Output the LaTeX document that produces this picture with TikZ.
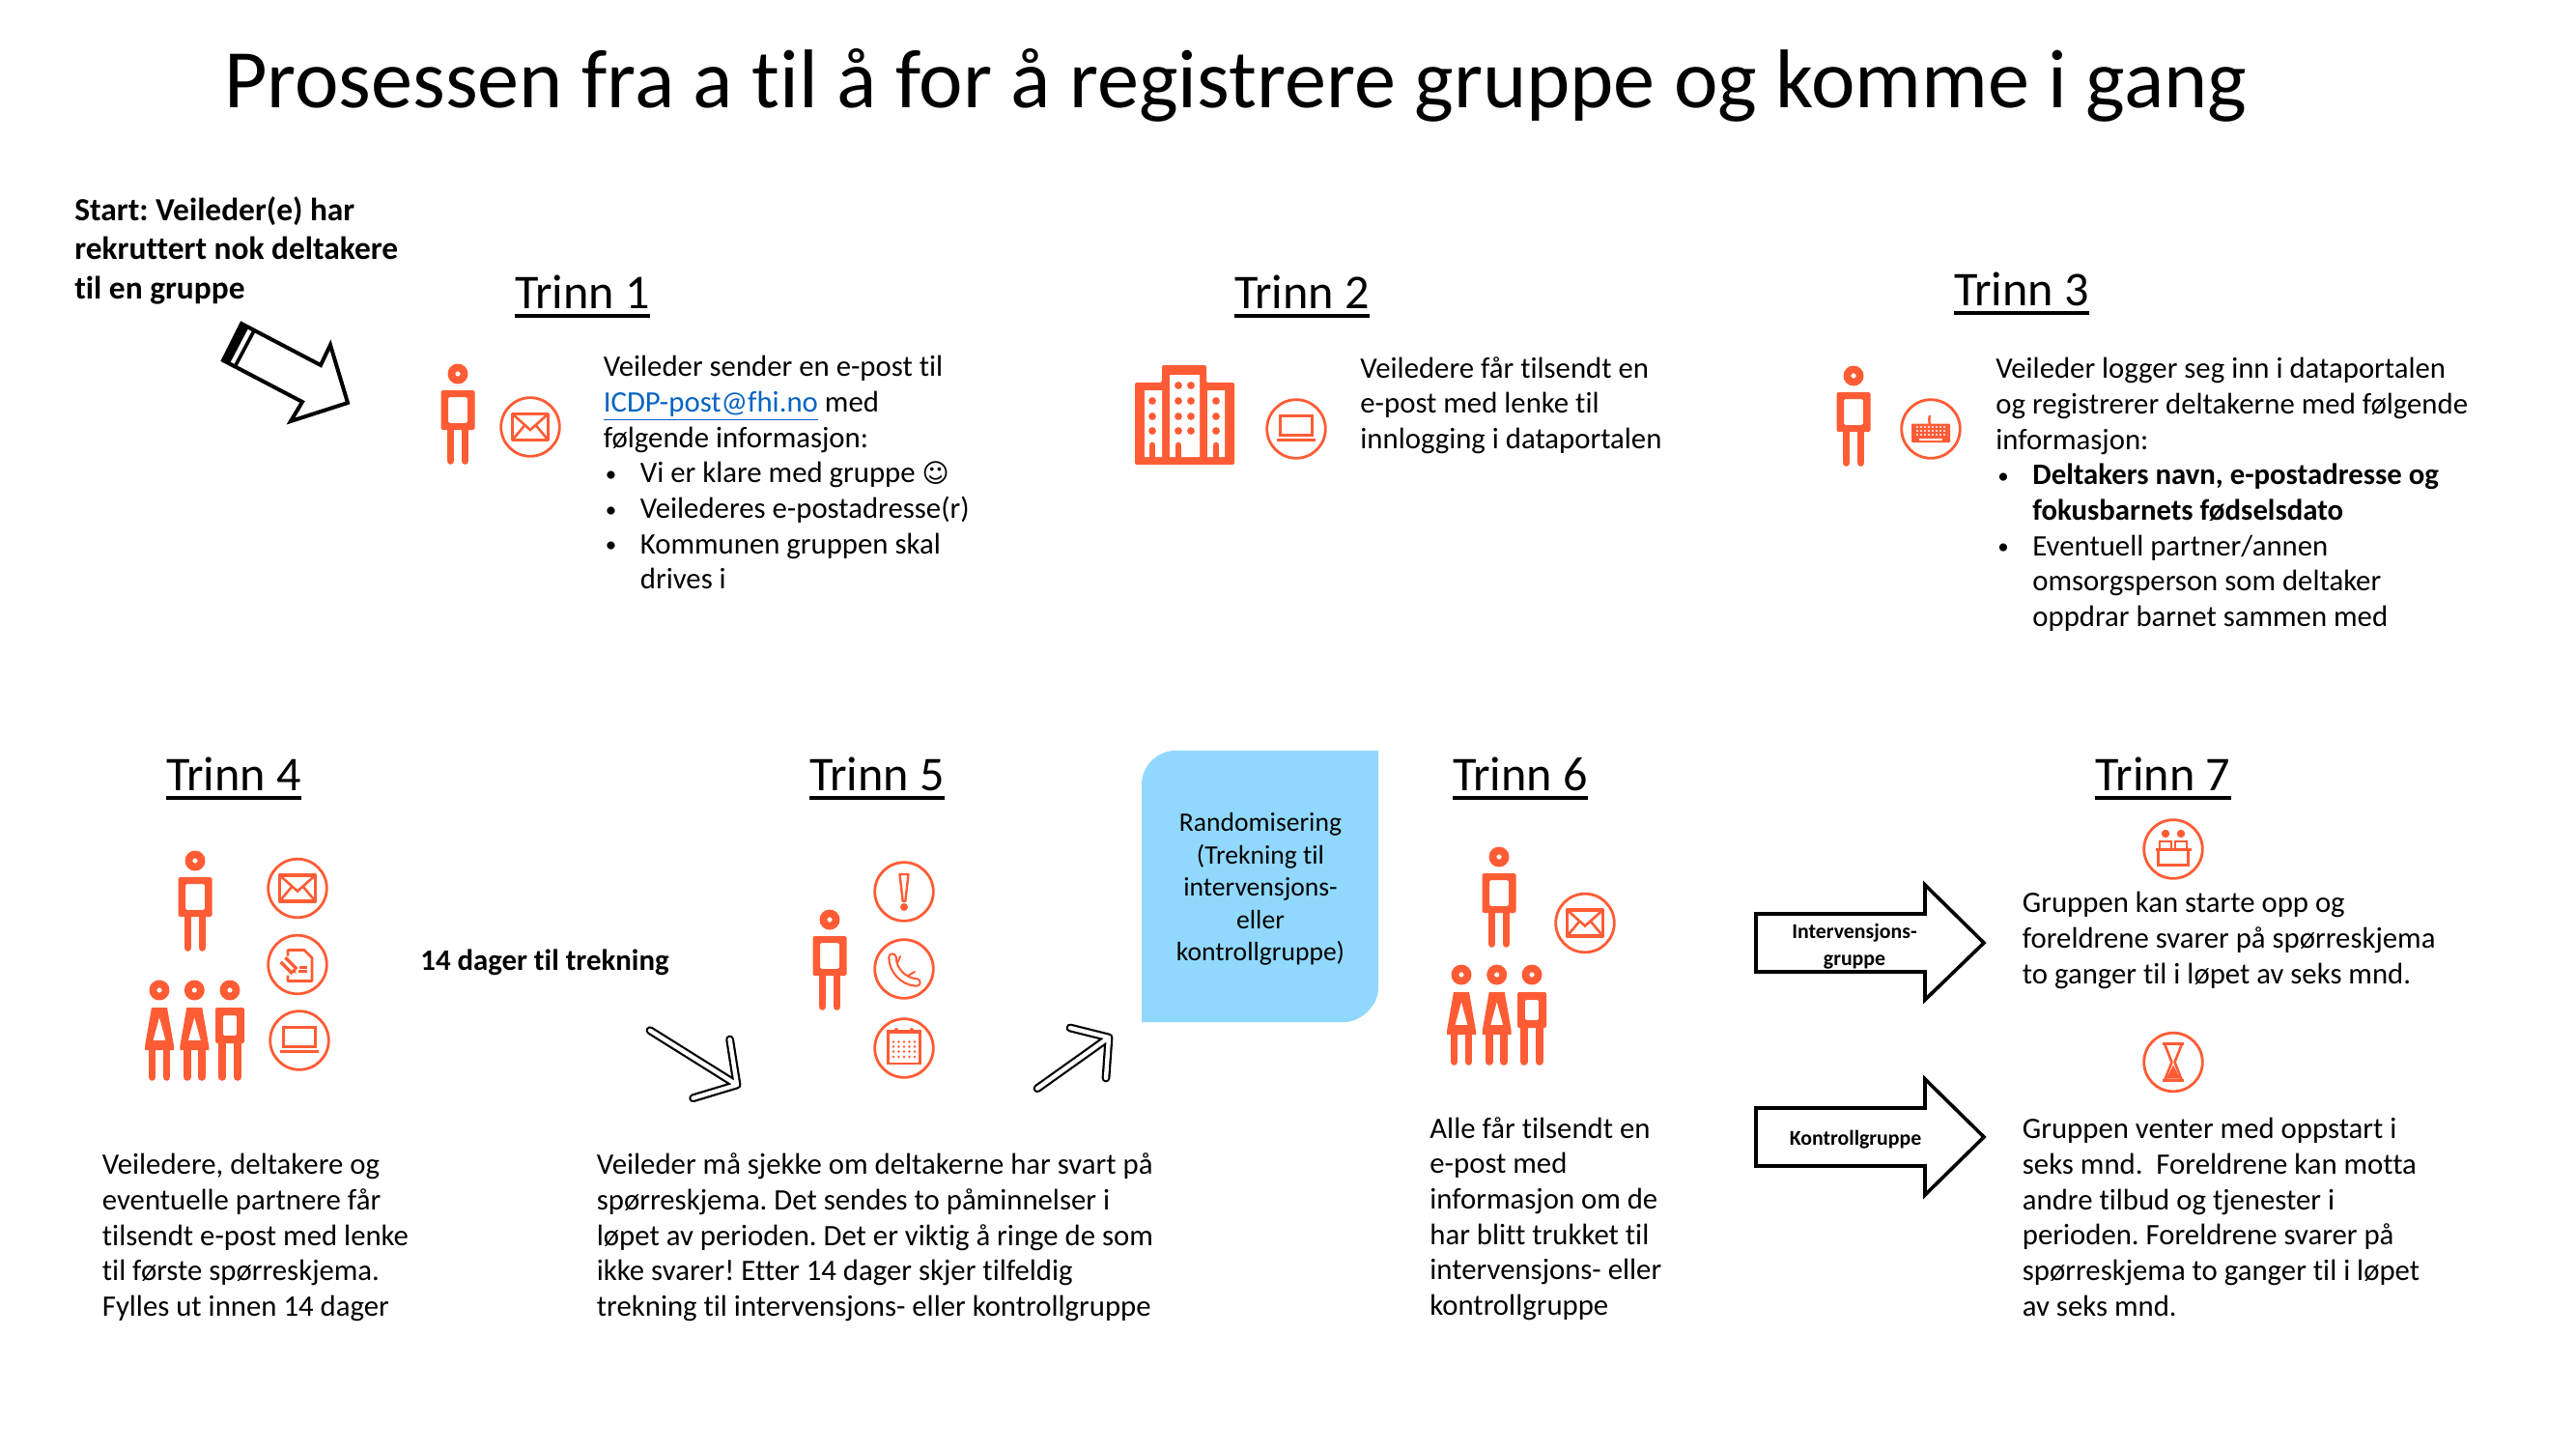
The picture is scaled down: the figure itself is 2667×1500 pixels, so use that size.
\documentclass[tikz,border=0pt]{standalone}
\usepackage{fontspec}
\setmainfont{Carlito}[Ligatures={NoCommon}]
\newfontfamily\symfont{DejaVu Sans}
\frenchspacing
\definecolor{ic}{HTML}{FF5C35}
\definecolor{boxblue}{HTML}{91D8FF}
\definecolor{linkblue}{HTML}{0563C1}
\newcommand{\strutline}{\vrule width 0pt height 12.85pt depth 5.5pt}
\newcommand{\bul}{\makebox[19pt][l]{\hspace{1pt}\fontsize{11.5}{12}\selectfont\raisebox{0.6pt}{•}}}
\newcommand{\ind}{\hspace*{19pt}}
\tikzset{
  x=0.5pt,y=-0.5pt,
  body/.style={anchor=north west,inner sep=0pt,align=left,font=\fontsize{15.38}{18.35}\selectfont},
  boldtxt/.style={anchor=north west,inner sep=0pt,align=left,font=\fontsize{16.7}{20.4}\selectfont\bfseries},
  head/.style={anchor=base,inner sep=0pt,font=\fontsize{25.1}{30}\selectfont},
  icl/.style={draw=ic,line width=1.4pt},
  blockarrow/.style={draw=black,line width=1.8pt,fill=white,miter limit=10},
  small/.style={anchor=center,inner sep=0pt,align=center,font=\fontsize{10.9}{14}\selectfont\bfseries}
}
\newcommand{\trinnhead}[4]{%
  \node[head] (#1) at (#2,#3) {#4};
  \draw[line width=2.2pt] ([yshift=-3.75pt]#1.base west) -- ([yshift=-3.75pt]#1.base east);}
\newcommand{\headring}{\fill[ic,even odd rule] (0,0) circle (10.5) (0,0) circle (2.7);}
\newcommand{\legs}[2]{\draw[ic,line width=3.8pt,line cap=round] (-#1,#2) -- (-#1,90) (#1,#2) -- (#1,90);}
\newcommand{\manicon}[2]{\begin{scope}[shift={(#1,#2)}]
  \headring
  \fill[ic,even odd rule,rounded corners=0.8pt] (-17.5,17) rectangle (17.5,58) (-10,24) rectangle (10,51);
  \legs{7.5}{56}
\end{scope}}
\newcommand{\mansmall}[2]{\begin{scope}[shift={(#1,#2)}]
  \headring
  \fill[ic,even odd rule,rounded corners=0.8pt] (-15,18) rectangle (15,55) (-7.2,26) rectangle (7.2,47);
  \legs{8}{53}
\end{scope}}
\newcommand{\womanicon}[2]{\begin{scope}[shift={(#1,#2)}]
  \headring
  \fill[ic,even odd rule] (-8,18) -- (8,18) -- (15,58) -- (15,62) -- (-15,62) -- (-15,58) -- cycle
     (0,28) -- (6.5,52) -- (-6.5,52) -- cycle;
  \legs{7.5}{60}
\end{scope}}
\newcommand{\ring}{\draw[icl] (0,0) circle (30.3);}
\newcommand{\mailicon}[2]{\begin{scope}[shift={(#1,#2)}]\ring
  \draw[icl,line join=round,line width=1.7pt] (-18.5,-13.5) rectangle (18.5,13.5);
  \draw[icl,line width=1.3pt] (-18.5,-13.5) -- (0,3) -- (18.5,-13.5) (-18.5,13.5) -- (-6,-1.5) (18.5,13.5) -- (6,-1.5);
\end{scope}}
\newcommand{\laptopicon}[2]{\begin{scope}[shift={(#1,#2)}]\ring
  \draw[icl] (-16.5,-13.5) rectangle (16.5,6.5);
  \draw[icl,line width=1.5pt] (-20,11) -- (20,11);
\end{scope}}
\newcommand{\keyboardicon}[2]{\begin{scope}[shift={(#1,#2)}]\ring
  \fill[ic,rounded corners=0.5pt] (-20,-5.5) rectangle (20,14);
  \foreach \kx in {-14,-10,-6,-2,2,6,10,14}{\fill[white] (\kx,-2) circle (1.1) (\kx,2) circle (1.1) (\kx,6) circle (1.1);}
  \fill[white] (-12,10) rectangle (12,11.5);
  \draw[ic,line width=1.2pt] (-1,-5) .. controls (-2,-9) and (-2,-11) .. (-1,-14);
\end{scope}}
\newcommand{\docicon}[2]{\begin{scope}[shift={(#1,#2)}]\ring
  \draw[ic,line width=1.4pt,line join=round] (-10,-9) -- (-10,-15) -- (7,-15) -- (15,-7) -- (15,17) -- (-10,17) -- (-10,11);
  \draw[ic,line width=1.1pt] (1,7) -- (10,7) (2,3) -- (10,3);
  \draw[ic,line width=5pt] (-15,-5) -- (-3,7);
  \draw[white,line width=1.5pt] (-15,-5) -- (-5,5);
  \fill[ic] (-1.5,9) -- (-6,8) -- (-2,4) -- cycle;
\end{scope}}
\newcommand{\alerticon}[2]{\begin{scope}[shift={(#1,#2)}]\ring
  \draw[ic,line width=1.2pt,line join=round] (-4.5,-18) -- (4.5,-18) -- (1.3,10) -- (-1.3,10) -- cycle;
  \fill[ic] (0,16) circle (4);
\end{scope}}
\newcommand{\phoneicon}[2]{\begin{scope}[shift={(#1,#2)}]\ring
  \draw[ic,line width=4.8pt,line cap=round] (-12,-12) .. controls (-12,0) and (-2,13) .. (13,14);
  \draw[white,line width=2.6pt,line cap=round] (-12,-12) .. controls (-12,0) and (-2,13) .. (13,14);
  \draw[ic,line width=1pt,line cap=round] (-7,-6) -- (-4,-13) (4,7) -- (11,3);
\end{scope}}
\newcommand{\calicon}[2]{\begin{scope}[shift={(#1,#2)}]\ring
  \draw[ic,line width=1.1pt] (-16.5,-17.5) rectangle (16.5,16);
  \fill[ic] (-16.5,-17.5) rectangle (16.5,-15);
  \fill[ic] (-8,-19) circle (2) (8,-19) circle (2);
  \foreach \cy in {-6.5,-1.5,3.5,9}{\foreach \cx in {-11,-5.5,0,5.5,11}{\fill[ic] (\cx,\cy) circle (1.3);}}
\end{scope}}
\newcommand{\tableicon}[2]{\begin{scope}[shift={(#1,#2)}]\ring
  \fill[ic] (-8,-16) circle (4.2) (8,-16) circle (4.2);
  \draw[ic,line width=1.1pt] (-14,0) -- (-14,-8) -- (-2,-8) -- (-2,0) (2,0) -- (2,-8) -- (14,-8) -- (14,0);
  \draw[ic,line width=1.5pt] (-15.5,0.5) rectangle (15.5,16);
  \draw[ic,line width=1.2pt] (-18.5,0.5) -- (18.5,0.5);
\end{scope}}
\newcommand{\hourglassicon}[2]{\begin{scope}[shift={(#1,#2)}]\ring
  \draw[ic,line width=1.4pt] (-11,-19) -- (11,-19) (-11,19) -- (11,19);
  \draw[ic,line width=1.3pt,line join=round] (-9,-19) -- (-1.5,0) -- (-9,19) (9,-19) -- (1.5,0) -- (9,19);
  \fill[ic] (-7,17) -- (0,3) -- (7,17) -- cycle;
\end{scope}}
\newcommand{\openarrow}[4]{%
  \draw[black,line width=4.4pt,line cap=round,line join=round] #1 -- #2 #3 -- #2 -- #4;
  \draw[white,line width=2.2pt,line cap=round,line join=round] #1 -- #2 #3 -- #2 -- #4;}
\begin{document}
\begin{tikzpicture}
\useasboundingbox (0,0) rectangle (2667,1500);
\fill[white] (0,0) rectangle (2667,1500);
% Title
\node[anchor=base,inner sep=0pt,font=\fontsize{43.1}{52}\selectfont] (title) at (1279,111) {Prosessen fra a til å for å registrere gruppe og komme i gang};
% Start
\node[boldtxt] (start) at (77,199) {\vrule width 0pt height 14.3pt depth 6pt Start: Veileder(e) har\\rekruttert nok deltakere\\til en gruppe};
% Striped arrow
\draw[black,line width=2pt,line join=miter,miter limit=10] (250,335) -- (332,378) -- (342,357) -- (360,417) -- (301,436) -- (313,416) -- (231,373) -- cycle;
\fill[black] (250.7,334) -- (258,338) -- (237.5,377) -- (230,373) -- cycle;
\draw[black,line width=1.8pt] (263.5,341.5) -- (243,380);
% Headings
\trinnhead{t1}{603}{319.5}{Trinn 1}
\trinnhead{t2}{1348}{319.5}{Trinn 2}
\trinnhead{t3}{2093}{316.5}{Trinn 3}
\trinnhead{t4}{242}{818.5}{Trinn 4}
\trinnhead{t5}{908}{818.5}{Trinn 5}
\trinnhead{t6}{1574}{818.5}{Trinn 6}
\trinnhead{t7}{2239.5}{818.5}{Trinn 7}
% Trinn 1
\manicon{474}{387}
\mailicon{549}{442}
\node[body] (b1) at (624.5,363.5) {\strutline Veileder sender en e-post til\\
{\color{linkblue}\underline{ICDP-post@fhi.no}} med\\
følgende informasjon:\\
\bul Vi er klare med gruppe {\symfont\fontsize{13.5}{16}\selectfont ☺}\\
\bul Veilederes e-postadresse(r)\\
\bul Kommunen gruppen skal\\
\ind drives i};
% Trinn 2
\fill[ic,rounded corners=1pt] (1175,396) -- (1203,396) -- (1203,378) -- (1249,378) -- (1249,396) -- (1278,396) -- (1278,481) -- (1175,481) -- cycle;
\fill[white] (1185,404) rectangle (1203,473) (1211,388) rectangle (1242,473) (1250,404) rectangle (1268,473);
\foreach \wx/\wy in {1193/415,1193/431,1193/446,1259/415,1259/431,1259/446,1220/399,1233/399,1220/415,1233/415,1220/431,1233/431,1220/446,1233/446}{\fill[ic] (\wx,\wy) circle (3.9);}
\foreach \dx in {1193,1220,1259}{\draw[ic,line width=3.4pt,line cap=round] (\dx,461) -- (\dx,475);}
\laptopicon{1342}{444}
\node[body] (b2) at (1408,365) {\strutline Veiledere får tilsendt en\\e-post med lenke til\\innlogging i dataportalen};
% Trinn 3
\manicon{1919}{389}
\keyboardicon{1999}{444}
\node[body] (b3) at (2066,365.5) {\strutline Veileder logger seg inn i dataportalen\\og registrerer deltakerne med følgende\\informasjon:\\
\bul\textbf{Deltakers navn, e-postadresse og}\\
\ind\textbf{fokusbarnets fødselsdato}\\
\bul Eventuell partner/annen\\
\ind omsorgsperson som deltaker\\
\ind oppdrar barnet sammen med};
% Trinn 4
\manicon{202}{891}
\womanicon{165}{1025}
\womanicon{201.3}{1025}
\mansmall{238}{1025}
\mailicon{308}{919.5}
\docicon{308}{998.5}
\laptopicon{310}{1077}
\node[body] (b4) at (105.5,1189.5) {\strutline Veiledere, deltakere og\\eventuelle partnere får\\tilsendt e-post med lenke\\til første spørreskjema.\\Fylles ut innen 14 dager};
\node[boldtxt,font=\fontsize{15.4}{20.4}\selectfont\bfseries] (d14) at (435,975) {\vrule width 0pt height 14.3pt depth 6pt 14 dager til trekning};
% Trinn 5
\manicon{859}{952}
\alerticon{936}{923}
\phoneicon{936}{1003}
\calicon{936}{1085}
\openarrow{(673,1066.7)}{(763,1123)}{(755.6,1076)}{(717.6,1136.7)}
\openarrow{(1074,1126.7)}{(1148,1074)}{(1108,1064)}{(1145,1116)}
\node[body] (b5) at (617.5,1189.5) {\strutline Veileder må sjekke om deltakerne har svart på\\spørreskjema. Det sendes to påminnelser i\\løpet av perioden. Det er viktig å ringe de som\\ikke svarer! Etter 14 dager skjer tilfeldig\\trekning til intervensjons- eller kontrollgruppe};
% Randomisering
\fill[boxblue] (1182,812) .. controls (1182,793) and (1198,777) .. (1217,777) -- (1427,777) -- (1427,1023) .. controls (1427,1042) and (1408,1058) .. (1392,1058) -- (1182,1058) -- cycle;
\node[anchor=center,inner sep=0pt,align=center,font=\fontsize{13.8}{16.8}\selectfont] (rand) at (1305,920.5) {Randomisering\\(Trekning til\\intervensjons-\\eller\\kontrollgruppe)};
% Trinn 6
\manicon{1552}{887}
\womanicon{1513}{1009}
\womanicon{1549.7}{1009}
\mansmall{1586}{1009}
\mailicon{1641}{955.5}
\node[body] (b6) at (1480,1152) {\strutline Alle får tilsendt en\\e-post med\\informasjon om de\\har blitt trukket til\\intervensjons- eller\\kontrollgruppe};
% Trinn 7
\draw[blockarrow] (1818,946) -- (1993,946) -- (1993,916) -- (2054,976) -- (1993,1035) -- (1993,1006) -- (1818,1006) -- cycle;
\node[small] (a1) at (1920,980) {Intervensjons-\\gruppe};
\draw[blockarrow] (1818,1147) -- (1993,1147) -- (1993,1117) -- (2054,1177) -- (1993,1237) -- (1993,1207) -- (1818,1207) -- cycle;
\node[small] (a2) at (1921,1180) {Kontrollgruppe};
\tableicon{2250}{879}
\hourglassicon{2250}{1099.5}
\node[body] (b7a) at (2093.5,918.5) {\strutline Gruppen kan starte opp og\\foreldrene svarer på spørreskjema\\to ganger til i løpet av seks mnd.};
\node[body] (b7b) at (2093.5,1152.5) {\strutline Gruppen venter med oppstart i\\seks mnd.\ \ Foreldrene kan motta\\andre tilbud og tjenester i\\perioden. Foreldrene svarer på\\spørreskjema to ganger til i løpet\\av seks mnd.};
\end{tikzpicture}
\end{document}
